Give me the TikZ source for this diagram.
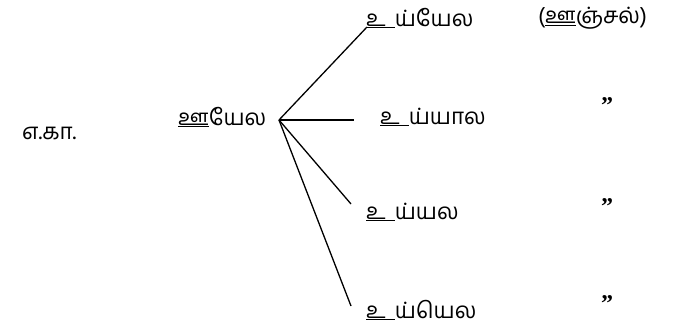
\documentclass[tikz,border=0pt]{standalone}
\usepackage{fontspec}
\newfontfamily\tamil[Script=Tamil]{Hind Madurai}
\newfontfamily\quotefont{Liberation Serif}
\begin{document}
\begin{tikzpicture}[x=1pt,y=-1pt,
  lbl/.style={anchor=west,inner sep=0pt,font=\tamil\fontsize{22.5}{26}\selectfont},
  ditto/.style={inner sep=0pt,font=\quotefont\bfseries\fontsize{24}{26}\selectfont},
  conn/.style={line width=1.3pt}]
\useasboundingbox (0,0) rectangle (698,327);
\node[lbl] (eg) at (22,133) {எ.கா.};
\node[lbl] (root) at (178,117) {\underline{ஊ}யேல};
\node[lbl] (a) at (366,18) {\underline{உ\hspace{0.4em}}ய்யேல};
\node[lbl] (a2) at (538,18) {(\underline{ஊ}ஞ்சல்)};
\node[lbl] (b) at (380,117) {\underline{உ\hspace{0.4em}}ய்யால};
\node[lbl] (c) at (366,212) {\underline{உ\hspace{0.4em}}ய்யல};
\node[lbl] (d) at (366,310) {\underline{உ\hspace{0.4em}}ய்யெல};
\node[ditto] (qb) at (607,106) {”};
\node[ditto] (qc) at (607,207) {”};
\node[ditto] (qd) at (607,304) {”};
\coordinate (j) at (279,120);
\coordinate (ea) at (367,27);
\coordinate (eb) at (354,120);
\coordinate (ec) at (351,204);
\coordinate (ed) at (351,306);
\draw[conn] (j) -- (ea);
\draw[conn] (j) -- (eb);
\draw[conn] (j) -- (ec);
\draw[conn] (j) -- (ed);
\end{tikzpicture}
\end{document}
